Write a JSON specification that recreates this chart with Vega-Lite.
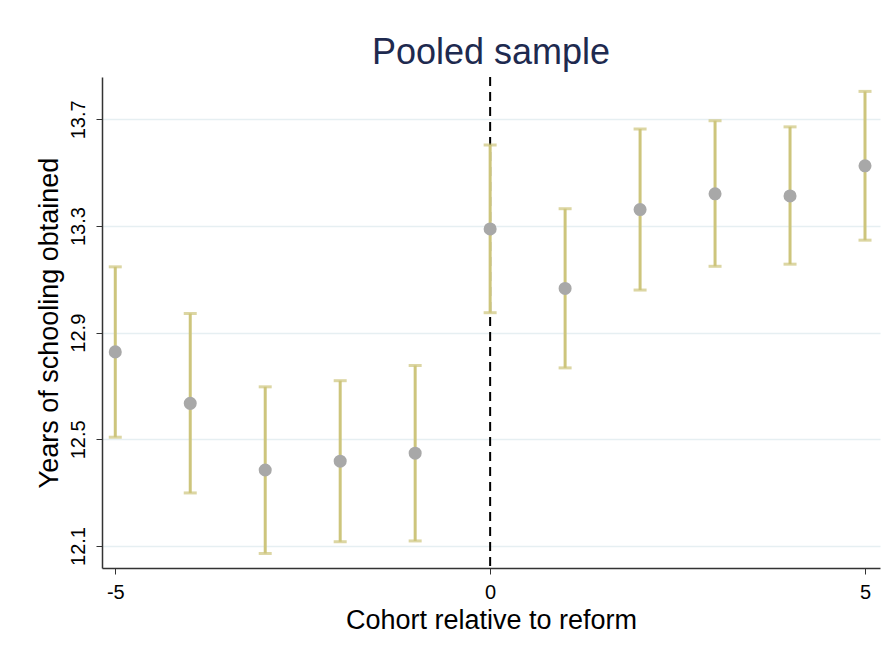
{
  "$schema": "https://vega.github.io/schema/vega-lite/v6.json",
  "width": 778,
  "height": 491,
  "autosize": "none",
  "padding": {"left": 102, "top": 77, "right": 10, "bottom": 87},
  "background": "white",
  "config": {
    "font": "Liberation Sans",
    "view": {"stroke": null}
  },
  "title": {
    "text": "Pooled sample",
    "fontSize": 36,
    "font": "Liberation Sans",
    "fontWeight": "normal",
    "color": "#1e2a4f",
    "anchor": "middle",
    "offset": 4
  },
  "datasets": {
    "est": [
      {"cohort": -5, "coef": 12.828, "lo": 12.508, "hi": 13.147},
      {"cohort": -4, "coef": 12.635, "lo": 12.299, "hi": 12.972},
      {"cohort": -3, "coef": 12.385, "lo": 12.072, "hi": 12.697},
      {"cohort": -2, "coef": 12.418, "lo": 12.116, "hi": 12.720},
      {"cohort": -1, "coef": 12.448, "lo": 12.119, "hi": 12.777},
      {"cohort": 0, "coef": 13.289, "lo": 12.975, "hi": 13.604},
      {"cohort": 1, "coef": 13.066, "lo": 12.768, "hi": 13.365},
      {"cohort": 2, "coef": 13.362, "lo": 13.060, "hi": 13.664},
      {"cohort": 3, "coef": 13.421, "lo": 13.149, "hi": 13.695},
      {"cohort": 4, "coef": 13.413, "lo": 13.157, "hi": 13.672},
      {"cohort": 5, "coef": 13.526, "lo": 13.247, "hi": 13.805}
    ],
    "reform": [{"cohort": 0}]
  },
  "layer": [
    {
      "data": {"name": "reform"},
      "mark": {"type": "rule", "color": "#000000", "strokeWidth": 2, "strokeDash": [9, 6]},
      "encoding": {
        "x": {"field": "cohort", "type": "quantitative"}
      }
    },
    {
      "data": {"name": "est"},
      "mark": {"type": "rule", "color": "#cdc57c", "strokeWidth": 3},
      "encoding": {
        "x": {
          "field": "cohort", "type": "quantitative",
          "scale": {"domain": [-5.177, 5.2], "nice": false, "zero": false},
          "axis": {
            "title": "Cohort relative to reform",
            "titleFontSize": 27,
            "titleFontWeight": "normal",
            "titleColor": "#000000",
            "titlePadding": 5,
            "values": [-5, 0, 5],
            "labelExpr": "'' + datum.value",
            "labelFontSize": 20,
            "labelColor": "#000000",
            "labelPadding": 8,
            "tickSize": 6,
            "tickColor": "#333333",
            "domainColor": "#333333",
            "domainWidth": 1.5,
            "grid": false
          }
        },
        "y": {
          "field": "lo", "type": "quantitative",
          "scale": {"domain": [12.0175, 13.859], "nice": false, "zero": false},
          "axis": {
            "title": "Years of schooling obtained",
            "titleFontSize": 27,
            "titleFontWeight": "normal",
            "titleColor": "#000000",
            "titlePadding": 5,
            "values": [12.1, 12.5, 12.9, 13.3, 13.7],
            "format": ".1f",
            "labelAngle": -90,
            "labelAlign": "center",
            "labelBaseline": "bottom",
            "labelFontSize": 20,
            "labelColor": "#000000",
            "labelPadding": 8,
            "tickSize": 6,
            "tickColor": "#333333",
            "domainColor": "#333333",
            "domainWidth": 1.5,
            "grid": true,
            "gridColor": "#e6eff2",
            "gridWidth": 1.5
          }
        },
        "y2": {"field": "hi"}
      }
    },
    {
      "data": {"name": "est"},
      "mark": {"type": "tick", "orient": "horizontal", "color": "#cdc57c", "size": 13, "thickness": 3},
      "encoding": {
        "x": {"field": "cohort", "type": "quantitative"},
        "y": {"field": "lo", "type": "quantitative"}
      }
    },
    {
      "data": {"name": "est"},
      "mark": {"type": "tick", "orient": "horizontal", "color": "#cdc57c", "size": 13, "thickness": 3},
      "encoding": {
        "x": {"field": "cohort", "type": "quantitative"},
        "y": {"field": "hi", "type": "quantitative"}
      }
    },
    {
      "data": {"name": "est"},
      "mark": {"type": "point", "filled": true, "shape": "circle", "color": "#a8a8a8", "opacity": 1, "size": 170},
      "encoding": {
        "x": {"field": "cohort", "type": "quantitative"},
        "y": {"field": "coef", "type": "quantitative"}
      }
    }
  ]
}
